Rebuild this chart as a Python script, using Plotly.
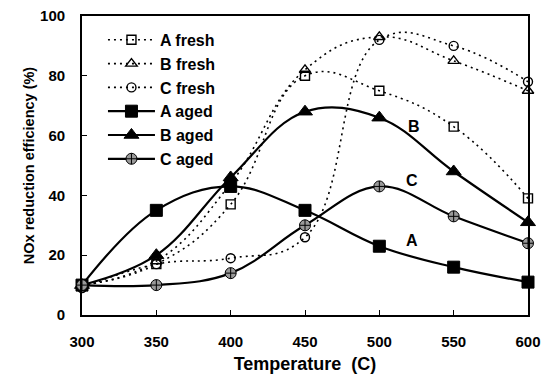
import plotly.graph_objects as go

temps = [300, 350, 400, 450, 500, 550, 600]
a_fresh = [10, 17, 37, 80, 75, 63, 39]
b_fresh = [10, 18, 44, 82, 93, 85, 75]
c_fresh = [9, 17, 19, 26, 92, 90, 78]
a_aged = [10, 35, 43, 35, 23, 16, 11]
b_aged = [10, 20, 46, 68, 66, 48, 31]
c_aged = [10, 10, 14, 30, 43, 33, 24]

labels = ["A", "B", "C"]
label_x = [522, 523, 522]
label_y = [25, 63, 45]

FONT = "Liberation Sans, Arial, sans-serif"

fig = go.Figure()

def add(name, y, symbol, size, dotted, fill="black", mline=1):
    fig.add_trace(go.Scatter(
        x=temps, y=y, name=name, mode="lines+markers",
        line=dict(color="black", width=1.6 if dotted else 2.2,
                  dash="2px,4px" if dotted else "solid", shape="spline",
                  smoothing=1.25 if dotted else 1.1),
        marker=dict(symbol=symbol, size=size, color=fill,
                    line=dict(color="black", width=mline)),
        cliponaxis=False,
    ))

add("A fresh", a_fresh, "square-open", 9, True, mline=1.4)
add("B fresh", b_fresh, "triangle-up-open", 10, True, mline=1.4)
add("C fresh", c_fresh, "circle-open", 9, True, mline=1.4)
add("A aged", a_aged, "square", 12, False)
add("B aged", b_aged, "triangle-up", 13, False)
add("C aged", c_aged, "circle-cross", 11, False, fill="#999999", mline=1)

for t, xx, yy in zip(labels, label_x, label_y):
    fig.add_annotation(x=xx, y=yy, text=t, showarrow=False,
                       font=dict(family=FONT, size=16, color="black", weight="bold"))

axis_common = dict(showline=True, linecolor="black", linewidth=1.8, mirror=True,
                   ticks="inside", ticklen=5, tickcolor="black", showgrid=False, zeroline=False,
                   automargin=False, ticklabeloverflow="allow",
                   tickfont=dict(family=FONT, size=15, color="black", weight="bold"))

fig.update_xaxes(range=[300, 600], dtick=50, tick0=300, ticklabelstandoff=12,
                 title=dict(text="Temperature  (C)", standoff=8,
                            font=dict(family=FONT, size=18, color="black", weight="bold")),
                 **axis_common)
fig.update_yaxes(range=[0, 100], dtick=20, ticklabelstandoff=12,
                 title=dict(text="NOx reduction efficiency (%)", standoff=2,
                            font=dict(family=FONT, size=14.5, color="black", weight="bold")),
                 **axis_common)

fig.update_layout(
    width=544, height=366,
    margin=dict(l=74, r=24, t=8, b=59),
    paper_bgcolor="white", plot_bgcolor="white",
    showlegend=True,
    legend=dict(x=0.047, y=0.977, xanchor="left", yanchor="top",
                bgcolor="rgba(0,0,0,0)", tracegroupgap=0, itemwidth=47,
                font=dict(family=FONT, size=16, color="black", weight="bold")),
)

fig.write_html("out.html")
